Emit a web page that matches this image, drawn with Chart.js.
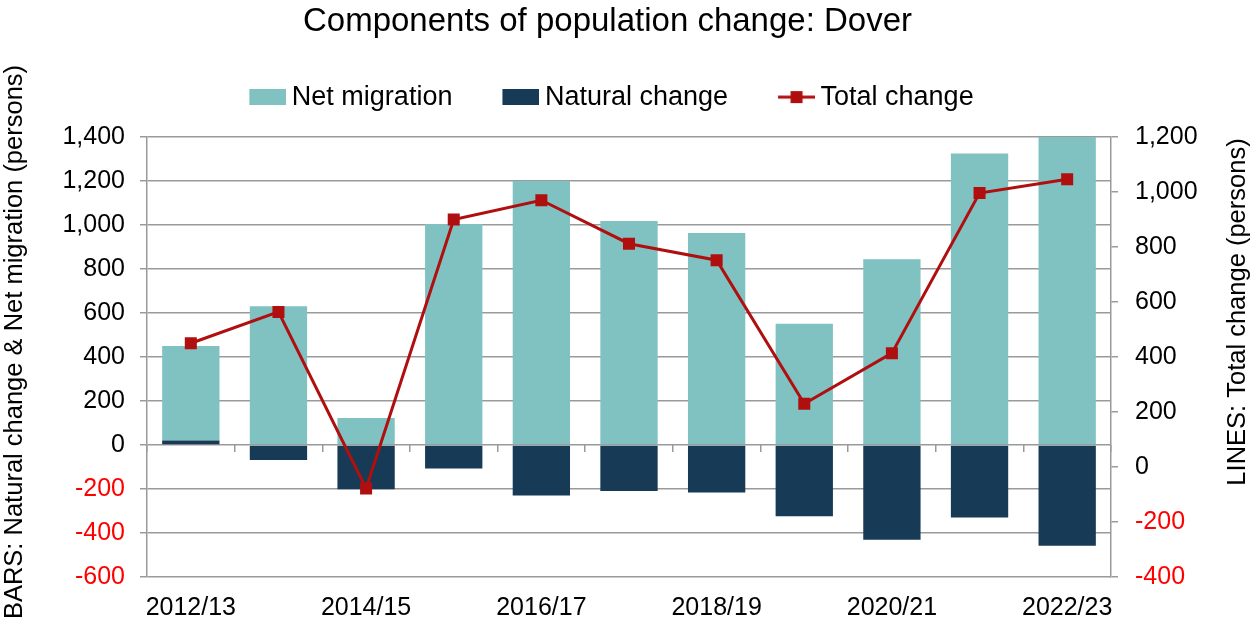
<!DOCTYPE html>
<html>
<head>
<meta charset="utf-8">
<script src="https://cdn.jsdelivr.net/npm/chart.js@4.4.1/dist/chart.umd.min.js"></script>
<style>
  html, body { margin: 0; padding: 0; background: #ffffff; }
  #wrap { width: 1255px; height: 624px; position: relative; }
</style>
</head>
<body>
<div id="wrap"><canvas id="c"></canvas></div>
<script>
// ---- data ----
const categories = ['2012/13', '2013/14', '2014/15', '2015/16', '2016/17', '2017/18', '2018/19', '2019/20', '2020/21', '2021/22', '2022/23'];
const netMigration = [430, 631, 123, 1005, 1200, 1018, 964, 551, 844, 1325, 1504];
const naturalChange = [20, -68, -201, -107, -230, -209, -216, -324, -431, -330, -458];
const totalChange = [450, 564, -78, 900, 970, 812, 752, 230, 414, 996, 1046];
const barAxisRange = [-600, 1400];
const lineAxisRange = [-400, 1200];
const tickStep = 200;
const chartTitle = 'Components of population change: Dover';
const leftAxisTitle = 'BARS: Natural change & Net migration (persons)';
const rightAxisTitle = 'LINES: Total change (persons)';
const seriesNames = ['Net migration', 'Natural change', 'Total change'];

// ---- styles ----
const FONT = '"Liberation Sans", Arial, Helvetica, sans-serif';
const TEAL = '#80C1C1';
const NAVY = '#173A56';
const RED = '#B00F0F';
const GRID = '#9a9a9a';

function makeBoxIcon(color) {
  const cv = document.createElement('canvas');
  cv.width = 53; cv.height = 16;
  const g = cv.getContext('2d');
  g.fillStyle = color;
  g.fillRect(16, 0, 37, 16);
  return cv;
}
function makeLineIcon(color) {
  const cv = document.createElement('canvas');
  cv.width = 53; cv.height = 16;
  const g = cv.getContext('2d');
  g.strokeStyle = color; g.lineWidth = 3;
  g.beginPath(); g.moveTo(16, 8); g.lineTo(53, 8); g.stroke();
  g.fillStyle = color;
  g.fillRect(28.5, 2, 12, 12);
  return cv;
}
const legendIcons = [makeBoxIcon(TEAL), makeBoxIcon(NAVY), makeLineIcon(RED)];

// keep the legend block a fixed height so the plot starts where the reference does
const legendHeightPlugin = {
  id: 'legendHeight',
  beforeLayout(chart) {
    const lg = chart.legend;
    if (lg && !lg._fixedFit) {
      const f = lg.fit;
      lg.fit = function () { f.call(this); this.height = 95.4; };
      lg._fixedFit = true;
    }
  }
};

const axisTitlesPlugin = {
  id: 'axisTitles',
  afterDraw(chart) {
    const ctx = chart.ctx;
    ctx.save();
    ctx.fillStyle = '#000000';
    ctx.textAlign = 'center';
    ctx.textBaseline = 'middle';
    ctx.font = '25.5px ' + FONT;
    ctx.save();
    ctx.translate(15, 342);
    ctx.rotate(-Math.PI / 2);
    ctx.fillText(leftAxisTitle, 0, 0);
    ctx.restore();
    ctx.save();
    ctx.translate(1238, 312);
    ctx.rotate(-Math.PI / 2);
    ctx.fillText(rightAxisTitle, 0, 0);
    ctx.restore();
    ctx.restore();
  }
};

const fmt = v => Number(v).toLocaleString('en-US');
const negRed = c => (c.tick && c.tick.value < 0) ? '#FF0000' : '#000000';

new Chart(document.getElementById('c'), {
  data: {
    labels: categories,
    datasets: [
      {
        type: 'bar', label: seriesNames[0], data: netMigration,
        backgroundColor: TEAL, borderWidth: 0,
        xAxisID: 'x', yAxisID: 'y', stack: 's', order: 2,
        barPercentage: 1.0, categoryPercentage: 0.654
      },
      {
        type: 'bar', label: seriesNames[1], data: naturalChange,
        backgroundColor: NAVY, borderWidth: 0,
        xAxisID: 'x', yAxisID: 'y', stack: 's', order: 1,
        barPercentage: 1.0, categoryPercentage: 0.654
      },
      {
        type: 'line', label: seriesNames[2], data: totalChange,
        borderColor: RED, backgroundColor: RED, borderWidth: 3,
        pointStyle: 'rect', pointRadius: 8.5, pointHoverRadius: 8.5,
        pointBackgroundColor: RED, pointBorderColor: RED, pointBorderWidth: 0,
        tension: 0, fill: false,
        xAxisID: 'x', yAxisID: 'y1', order: 0
      }
    ]
  },
  options: {
    responsive: true,
    maintainAspectRatio: false,
    animation: false,
    layout: { padding: { left: 0, right: 40, top: 0, bottom: 0 } },
    plugins: {
      tooltip: { enabled: false },
      title: {
        display: true, text: chartTitle, color: '#000000',
        font: { family: FONT, size: 33, weight: 'normal' },
        padding: { top: 2, bottom: 0 }
      },
      legend: {
        display: true, position: 'top',
        labels: {
          usePointStyle: true, pointStyleWidth: 37, padding: 42,
          color: '#000000', font: { family: FONT, size: 27 },
          generateLabels(chart) {
            return [0, 1, 2].map(i => ({
              text: chart.data.datasets[i].label,
              pointStyle: legendIcons[i],
              fillStyle: 'transparent', strokeStyle: 'transparent', lineWidth: 0,
              hidden: false, datasetIndex: i, fontColor: '#000000'
            }));
          }
        }
      }
    },
    scales: {
      x: {
        type: 'category', position: 'bottom', offset: true,
        grid: { display: false, drawTicks: false, offset: true },
        border: { display: false },
        ticks: {
          autoSkip: false, maxRotation: 0, minRotation: 0, padding: 16,
          color: '#000000', font: { family: FONT, size: 25 },
          callback: function (v, i) { return i % 2 === 0 ? this.getLabelForValue(v) : ''; }
        },
        afterFit(s) { s.height = 47; }
      },
      xz: {
        type: 'category', position: { y: 0 }, labels: categories, offset: true,
        grid: { display: true, drawOnChartArea: false, drawTicks: true, tickLength: 7, offset: true, color: GRID, lineWidth: 1.5 },
        border: { display: false },
        ticks: { display: false }
      },
      y: {
        type: 'linear', position: 'left', stacked: true,
        min: barAxisRange[0], max: barAxisRange[1],
        grid: { color: GRID, lineWidth: 1.5, drawTicks: true, tickLength: 7, tickColor: GRID },
        border: { display: true, color: GRID, width: 1.5 },
        ticks: {
          stepSize: tickStep, padding: 15, color: negRed,
          font: { family: FONT, size: 25 },
          callback: v => fmt(v)
        },
        afterFit(s) { s.width = 147; }
      },
      y1: {
        type: 'linear', position: 'right',
        min: lineAxisRange[0], max: lineAxisRange[1],
        grid: { drawOnChartArea: false, drawTicks: true, tickLength: 7, color: GRID, lineWidth: 1.5 },
        border: { display: true, color: GRID, width: 1.5 },
        ticks: {
          stepSize: tickStep, padding: 17, color: negRed,
          font: { family: FONT, size: 25 },
          callback: v => fmt(v)
        },
        afterFit(s) { s.width = 104; }
      }
    }
  },
  plugins: [legendHeightPlugin, axisTitlesPlugin]
});
</script>
</body>
</html>
